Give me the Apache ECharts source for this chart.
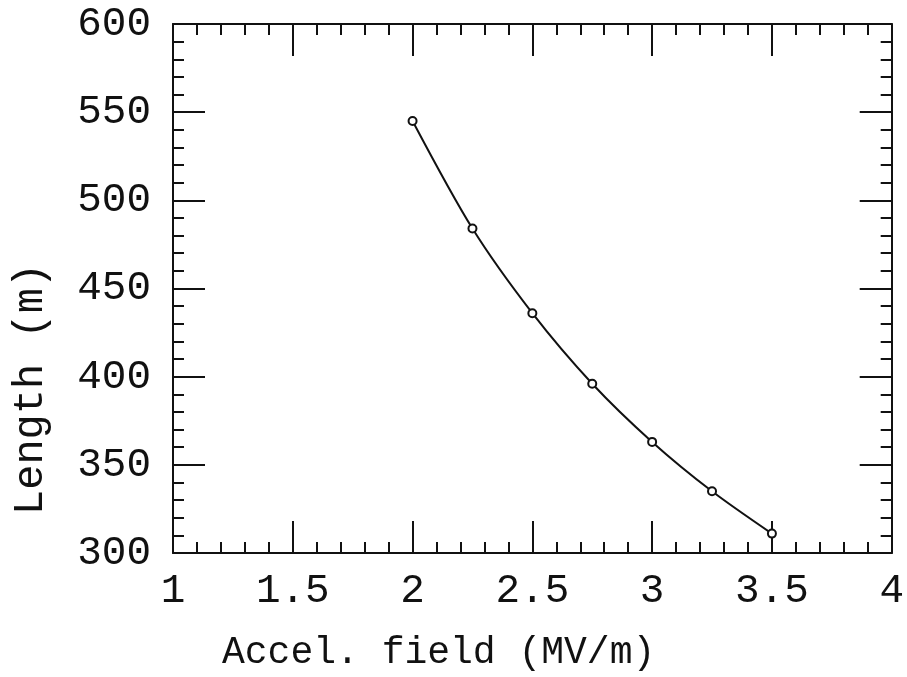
<!DOCTYPE html>
<html><head><meta charset="utf-8">
<script src="https://cdn.jsdelivr.net/npm/echarts@6/dist/echarts.min.js"></script>
<style>html,body{margin:0;padding:0;background:#fff}#c{width:907px;height:677px}</style>
</head><body><div id="c"></div>
<script>
var fieldValues = [2.0, 2.25, 2.5, 2.75, 3.0, 3.25, 3.5];
var lengthValues = [545, 484, 436, 396, 363, 335, 311];
var xTicks = [1, 1.5, 2, 2.5, 3, 3.5, 4];
var yTicks = [300, 350, 400, 450, 500, 550, 600];
var xTitle = 'Accel. field (MV/m)';
var yTitle = 'Length (m)';

var FONT = '"Liberation Mono", "DejaVu Sans Mono", monospace';
var ink = '#111';
var chart = echarts.init(document.getElementById('c'), null, {renderer: 'canvas'});

function xAx(pos, show) {
  return {
    type: 'value', position: pos, min: xTicks[0], max: xTicks[xTicks.length - 1], interval: 0.5,
    axisLine: {show: true, onZero: false, lineStyle: {color: ink, width: 2}},
    axisTick: {show: true, inside: true, length: 32, lineStyle: {color: ink, width: 2}},
    minorTick: {show: true, splitNumber: 5, length: 11, lineStyle: {color: ink, width: 2}},
    splitLine: {show: false},
    axisLabel: {show: show, margin: 18, color: ink, fontFamily: FONT, fontSize: 41,
      formatter: function (v) { return String(v); }}
  };
}
function yAx(pos, show) {
  return {
    type: 'value', position: pos, min: yTicks[0], max: yTicks[yTicks.length - 1], interval: 50,
    axisLine: {show: true, onZero: false, lineStyle: {color: ink, width: 2}},
    axisTick: {show: true, inside: true, length: 32, lineStyle: {color: ink, width: 2}},
    minorTick: {show: true, splitNumber: 5, length: 11, lineStyle: {color: ink, width: 2}},
    splitLine: {show: false},
    axisLabel: {show: show, margin: 22, color: ink, fontFamily: FONT, fontSize: 41}
  };
}

chart.setOption({
  backgroundColor: '#fff',
  animation: false,
  grid: {left: 173, right: 11, top: 24, bottom: 124, containLabel: false},
  xAxis: [xAx('bottom', true), xAx('top', false)],
  yAxis: [yAx('left', true), yAx('right', false)],
  graphic: [
    {type: 'text', left: 222, top: 634,
      style: {text: xTitle, font: '38px ' + FONT, fill: ink}},
    {type: 'text', x: 10, y: 515, rotation: Math.PI / 2,
      style: {text: yTitle, font: '42px ' + FONT, fill: ink, textBaseline: 'top', textAlign: 'left'}}
  ],
  series: [{
    type: 'line', xAxisIndex: 0, yAxisIndex: 0,
    data: fieldValues.map(function (x, i) { return [x, lengthValues[i]]; }),
    smooth: 0.3,
    symbol: 'emptyCircle', symbolSize: 8,
    lineStyle: {color: ink, width: 2},
    itemStyle: {color: ink, borderColor: ink, borderWidth: 1.5}
  }]
});
</script></body></html>
